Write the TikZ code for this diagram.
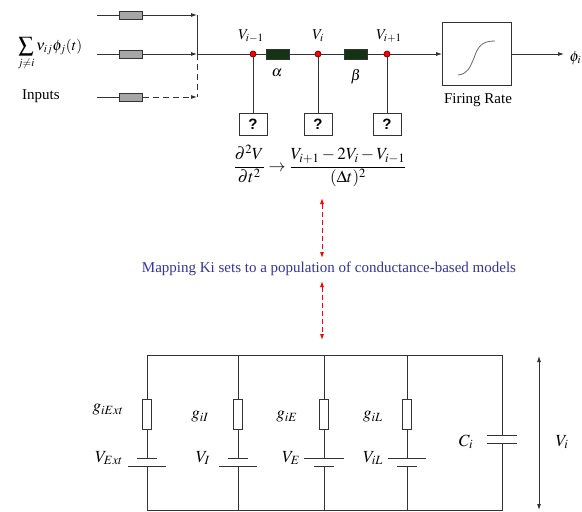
\documentclass[tikz,border=0pt]{standalone}
\usepackage{amsmath}
\usepackage{mathptmx}
\usepackage[no-math]{fontspec}
\setmainfont{Liberation Serif}
\newfontfamily\qfont{Liberation Sans}
\usepackage{tikz}
\usetikzlibrary{arrows.meta}
\definecolor{mapblue}{RGB}{51,51,160}
\definecolor{gategreen}{RGB}{20,50,20}

\begin{document}
\begin{tikzpicture}[x=1pt, y=-1pt, line width=0.8pt, draw=black!80,
    >={Latex[length=6pt,width=4pt]},
    every node/.style={font=\fontsize{15}{17}\selectfont},
    big/.style={font=\fontsize{17}{19}\selectfont},
    inbox/.style={draw, fill=gray!70, minimum width=23pt, minimum height=8pt, inner sep=0pt},
    gate/.style={draw, fill=gategreen, minimum width=23pt, minimum height=10pt, inner sep=0pt},
    vdot/.style={circle, draw=red!50!black, fill=red, minimum size=6pt, inner sep=0pt},
    qbox/.style={draw, minimum width=28pt, minimum height=22pt, inner sep=0pt,
        font=\qfont\bfseries\fontsize{15}{17}\selectfont},
    res/.style={draw, fill=white, minimum width=9pt, minimum height=30pt, inner sep=0pt},
    mapline/.style={red, dash pattern=on 5pt off 3pt, line width=0.9pt, <->}]
    \useasboundingbox (0,0) rectangle (582,512);

    % Inputs
    \node (sum) at (50,54) {$\displaystyle\sum_{j\neq i}\nu_{ij}\phi_j(t)$};
    \node (inputs) at (41,96) {Inputs};
    \coordinate (s1) at (97,15);
    \coordinate (s2) at (97,54);
    \coordinate (s3) at (97,97);
    \node[inbox] (in1) at (131,15) {};
    \node[inbox] (in2) at (131,54) {};
    \node[inbox] (in3) at (131,97) {};
    \coordinate (j1) at (197,15);
    \coordinate (j2) at (197,54);
    \coordinate (j3) at (197,97);
    \draw (s1) -- (in1);
    \draw (s2) -- (in2);
    \draw (s3) -- (in3);
    \draw[->] (in1) -- (j1);
    \draw[->] (in2) -- (j2);
    \draw[->, dash pattern=on 6pt off 4pt] (in3) -- (j3);
    \draw (j1) -- (j2);
    \draw[dash pattern=on 6pt off 4pt] (j2) -- (j3);

    % Chain of compartments
    \node[vdot] (vm) at (253,54) {};
    \node[gate] (ga) at (278,54) {};
    \node[vdot] (v0) at (318,54) {};
    \node[gate] (gb) at (356,54) {};
    \node[vdot] (vp) at (387,54) {};
    \node at (251,36) {$V_{i-1}$};
    \node at (318,36) {$V_i$};
    \node at (389,36) {$V_{i+1}$};
    \node at (277,73) {$\alpha$};
    \node at (356,77) {$\beta$};
    \draw (j2) -- (vm) -- (ga) -- (v0) -- (gb) -- (vp);

    \node[qbox] (q1) at (253,124) {?};
    \node[qbox] (q2) at (318,124) {?};
    \node[qbox] (q3) at (387,124) {?};
    \draw (vm) -- (q1);
    \draw (v0) -- (q2);
    \draw (vp) -- (q3);

    % Firing rate
    \node[draw, minimum width=69pt, minimum height=63pt] (fr) at (477,54) {};
    \node at (478,100) {Firing Rate};
    \draw[gray!80!black] (458,75) .. controls (468,74) and (470,67) .. (474,58)
        .. controls (478,46) and (482,41) .. (495,41);
    \draw[->] (vp) -- (fr);
    \coordinate (out) at (564,54);
    \draw[->] (fr) -- (out);
    \node[anchor=west] (phi) at (566,58) {$\phi_i$};

    % Discretisation
    \node[big] (eq) at (320,166) {$\dfrac{\partial^2 V}{\partial t^2} \rightarrow \dfrac{V_{i+1}-2V_i-V_{i-1}}{(\Delta t)^2}$};

    % Mapping
    \coordinate (a1) at (322,198);
    \coordinate (a2) at (322,258);
    \coordinate (a3) at (322,281);
    \coordinate (a4) at (322,340);
    \draw[mapline] (a1) -- (a2);
    \draw[mapline] (a3) -- (a4);
    \node[text=mapblue] (map) at (329,269) {Mapping Ki sets to a population of conductance-based models};

    % Circuit
    \foreach \x/\up/\lo/\n in {147/10/19/1, 238/10/19/2, 324/20/10/3, 407/19/10/4} {
        \coordinate (top\n) at (\x,355);
        \coordinate (bot\n) at (\x,510);
        \node[res] (r\n) at (\x,414) {};
        \coordinate (bu\n) at (\x,458);
        \coordinate (bd\n) at (\x,466);
        \draw (top\n) -- (r\n) -- (bu\n);
        \draw ([xshift=-\up pt]bu\n) -- ([xshift=\up pt]bu\n);
        \draw ([xshift=-\lo pt]bd\n) -- ([xshift=\lo pt]bd\n);
        \draw (bd\n) -- (bot\n);
    }
    \coordinate (top5) at (502,355);
    \coordinate (bot5) at (502,510);
    \coordinate (cu) at (502,435);
    \coordinate (cd) at (502,443);
    \draw (top1) -- (top5) -- (cu);
    \draw (bot1) -- (bot5) -- (cd);
    \draw ([xshift=-15pt]cu) -- ([xshift=15pt]cu);
    \draw ([xshift=-15pt]cd) -- ([xshift=15pt]cd);

    \node[big] at (108,410) {$g_{iExt}$};
    \node[big] at (109,458) {$V_{Ext}$};
    \node[big] at (200,417) {$g_{iI}$};
    \node[big] at (203,458) {$V_I$};
    \node[big] at (287,417) {$g_{iE}$};
    \node[big] at (291,458) {$V_E$};
    \node[big] at (373,417) {$g_{iL}$};
    \node[big] at (373,458) {$V_{iL}$};
    \node[big] at (466,442) {$C_i$};

    \coordinate (vt) at (539,356);
    \coordinate (vb) at (539,510);
    \draw[<->] (vt) -- (vb);
    \node[big] at (562,442) {$V_i$};
\end{tikzpicture}
\end{document}
